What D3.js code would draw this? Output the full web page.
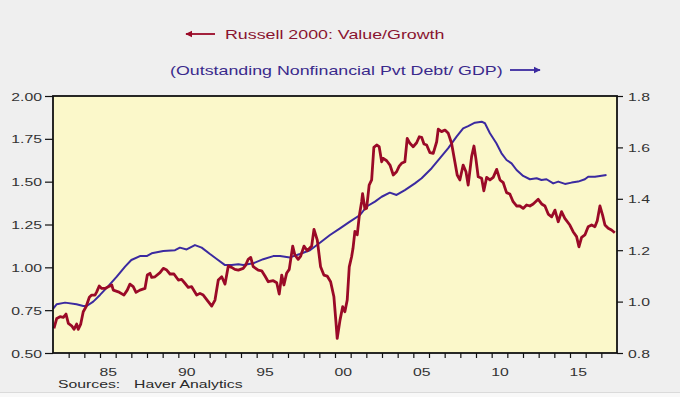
<!DOCTYPE html>
<html>
<head>
<meta charset="utf-8">
<script src="https://d3js.org/d3.v7.min.js"></script>
<style>
  body { margin: 0; background: #efefef; }
  svg { display: block; font-family: "Liberation Sans", Arial, sans-serif; }
</style>
</head>
<body>
<svg id="chart" width="680" height="397"></svg>
<script>
// Russell 2000 Value/Growth (left axis)
var rusYears = [1982.06,1982.24,1982.45,1982.66,1982.83,1982.98,1983.19,1983.34,1983.51,1983.61,1983.77,1983.93,
  1984.11,1984.32,1984.47,1984.68,1984.79,1984.95,1985.11,1985.32,1985.53,1985.75,1985.85,1986.17,1986.53,1986.74,
  1986.91,1987.12,1987.30,1987.55,1987.87,1988.02,1988.19,1988.30,1988.51,1988.83,1989.04,1989.26,1989.47,1989.72,
  1990.00,1990.21,1990.42,1990.63,1990.85,1991.17,1991.38,1991.59,1991.91,1992.13,1992.34,1992.55,1992.77,1992.98,
  1993.19,1993.40,1993.61,1993.83,1994.14,1994.30,1994.46,1994.62,1994.78,1995.10,1995.32,1995.53,1995.74,1996.06,
  1996.28,1996.44,1996.60,1996.74,1996.91,1997.08,1997.30,1997.44,1997.65,1997.81,1998.02,1998.23,1998.51,1998.66,
  1998.87,1999.08,1999.29,1999.50,1999.72,1999.93,2000.06,2000.14,2000.32,2000.49,2000.63,2000.78,2000.91,2001.06,
  2001.15,2001.27,2001.42,2001.55,2001.70,2001.76,2001.91,2002.02,2002.18,2002.34,2002.48,2002.66,2002.82,2002.98,
  2003.08,2003.30,2003.51,2003.72,2003.93,2004.10,2004.25,2004.46,2004.61,2004.78,2004.99,2005.21,2005.38,2005.53,
  2005.68,2005.85,2006.06,2006.27,2006.49,2006.59,2006.80,2007.02,2007.23,2007.44,2007.65,2007.80,2007.97,2008.18,
  2008.36,2008.50,2008.72,2008.87,2008.99,2009.14,2009.36,2009.50,2009.68,2009.89,2010.10,2010.32,2010.53,2010.74,
  2010.95,2011.16,2011.37,2011.59,2011.80,2012.01,2012.23,2012.44,2012.65,2012.97,2013.19,2013.40,2013.61,2013.83,
  2014.04,2014.25,2014.46,2014.67,2014.99,2015.20,2015.42,2015.57,2015.74,2015.95,2016.16,2016.38,2016.59,2016.74,
  2016.91,2017.08,2017.23,2017.44,2017.65,2017.86];
var rusValues = [0.644,0.702,0.712,0.708,0.727,0.673,0.659,0.638,0.669,0.638,0.669,0.741,
  0.770,0.825,0.838,0.838,0.857,0.891,0.877,0.877,0.887,0.897,0.867,0.857,0.838,0.867,
  0.902,0.887,0.854,0.867,0.877,0.955,0.965,0.941,0.945,0.969,0.994,0.984,0.961,0.961,
  0.926,0.930,0.907,0.883,0.887,0.838,0.848,0.838,0.800,0.774,0.809,0.926,0.945,0.902,
  1.008,1.000,0.988,0.984,0.994,1.013,1.047,1.058,1.004,0.984,0.980,0.949,0.916,0.922,
  0.910,0.844,0.955,0.897,0.965,0.988,1.124,1.072,1.047,1.066,1.124,1.097,1.124,1.222,
  1.159,1.003,0.955,0.949,0.916,0.828,0.682,0.585,0.692,0.770,0.741,0.809,1.003,1.062,
  1.111,1.210,1.190,1.300,1.383,1.430,1.340,1.345,1.480,1.510,1.700,1.714,1.704,1.616,
  1.636,1.622,1.597,1.539,1.558,1.591,1.607,1.616,1.753,1.724,1.704,1.727,1.762,1.759,
  1.720,1.714,1.669,1.665,1.733,1.806,1.792,1.801,1.782,1.724,1.616,1.539,1.510,1.597,
  1.558,1.480,1.646,1.708,1.636,1.529,1.520,1.447,1.525,1.510,1.525,1.572,1.510,1.494,
  1.436,1.428,1.383,1.358,1.358,1.344,1.364,1.358,1.370,1.397,1.370,1.358,1.311,1.295,
  1.334,1.266,1.325,1.286,1.247,1.208,1.179,1.120,1.175,1.189,1.237,1.247,1.237,1.272,
  1.358,1.305,1.247,1.228,1.218,1.202];

// Outstanding nonfinancial private debt / GDP (right axis)
var debtYears = [1982.00,1982.24,1982.77,1983.50,1983.93,1984.15,1984.57,1985.00,1985.53,1986.07,1986.60,1987.00,
  1987.55,1987.98,1988.30,1989.04,1989.79,1990.10,1990.53,1991.06,1991.49,1992.02,1992.45,1992.98,1993.40,1993.83,
  1994.14,1994.78,1995.42,1996.06,1996.49,1997.12,1997.76,1998.40,1999.04,1999.68,2000.32,2000.95,2001.60,2002.02,
  2002.55,2002.98,2003.50,2003.93,2004.46,2005.10,2005.53,2006.17,2006.70,2007.23,2007.76,2008.18,2008.50,2008.93,
  2009.36,2009.57,2009.89,2010.30,2010.63,2010.95,2011.27,2011.59,2012.01,2012.44,2012.87,2013.18,2013.50,2013.93,
  2014.25,2014.68,2015.10,2015.52,2015.95,2016.16,2016.59,2016.91,2017.33];
var debtValues = [0.972,0.990,0.996,0.990,0.983,0.983,1.000,1.026,1.060,1.097,1.136,1.162,
  1.177,1.177,1.188,1.197,1.200,1.210,1.203,1.220,1.210,1.185,1.166,1.142,1.142,1.145,
  1.142,1.149,1.165,1.177,1.177,1.172,1.185,1.200,1.229,1.259,1.285,1.311,1.337,1.370,
  1.389,1.408,1.424,1.415,1.434,1.460,1.480,1.519,1.558,1.597,1.642,1.674,1.683,1.696,
  1.700,1.694,1.655,1.616,1.577,1.551,1.538,1.512,1.489,1.476,1.480,1.473,1.476,1.460,
  1.467,1.458,1.463,1.467,1.476,1.486,1.486,1.489,1.493];

var leftTicks = [0.50,0.75,1.00,1.25,1.50,1.75,2.00];
var rightTicks = [0.8,1.0,1.2,1.4,1.6,1.8];
var yearLabels = [1985,1990,1995,2000,2005,2010,2015];

var redColor = "#9a0a27", blueColor = "#3b2aa0";
var stretchX = 1.37; // the reference text is drawn wide

var svg = d3.select("#chart");
var plot = {left: 53, right: 617, top: 96, bottom: 353};

var x = d3.scaleLinear().domain([1982, 2018]).range([plot.left, plot.right]);
var yL = d3.scaleLinear().domain([0.5, 2.0]).range([plot.bottom, plot.top]);
var yR = d3.scaleLinear().domain([0.8, 1.8]).range([plot.bottom, plot.top]);

function stretch(sel) {
  sel.each(function() {
    var len = this.getComputedTextLength();
    d3.select(this).attr("textLength", len * stretchX).attr("lengthAdjust", "spacingAndGlyphs");
  });
}

// bottom strip
svg.append("rect").attr("x", 0).attr("y", 392).attr("width", 680).attr("height", 5).attr("fill", "#f8f8f8");
svg.append("line").attr("x1", 0).attr("x2", 680).attr("y1", 392.5).attr("y2", 392.5).attr("stroke", "#dadada");

// plot background
svg.append("rect")
  .attr("x", plot.left).attr("y", plot.top)
  .attr("width", plot.right - plot.left).attr("height", plot.bottom - plot.top)
  .attr("fill", "#fbf8ca");

// lines
var blueLine = d3.line().x(function(d, i) { return x(debtYears[i]); }).y(function(d) { return yR(d); });
var redLine = d3.line().x(function(d, i) { return x(rusYears[i]); }).y(function(d) { return yL(d); });

svg.append("path").datum(debtValues)
  .attr("d", blueLine).attr("fill", "none")
  .attr("stroke", blueColor).attr("stroke-width", 2).attr("stroke-linejoin", "round");
svg.append("path").datum(rusValues)
  .attr("d", redLine).attr("fill", "none")
  .attr("stroke", redColor).attr("stroke-width", 2.8).attr("stroke-linejoin", "round");

// frame
svg.append("rect")
  .attr("x", plot.left).attr("y", plot.top)
  .attr("width", plot.right - plot.left).attr("height", plot.bottom - plot.top)
  .attr("fill", "none").attr("stroke", "#111").attr("stroke-width", 1.8);

// axes
var axL = svg.append("g").attr("transform", "translate(" + plot.left + ",0)")
  .call(d3.axisLeft(yL).tickValues(leftTicks).tickFormat(d3.format(".2f")).tickSize(8).tickPadding(3));
var axR = svg.append("g").attr("transform", "translate(" + plot.right + ",0)")
  .call(d3.axisRight(yR).tickValues(rightTicks).tickFormat(d3.format(".1f")).tickSize(6).tickPadding(5));
var axB = svg.append("g").attr("transform", "translate(0," + plot.bottom + ")")
  .call(d3.axisBottom(x).tickValues(d3.range(1983, 2018)).tickFormat("").tickSize(5));
var axB2 = svg.append("g").attr("transform", "translate(0," + plot.bottom + ")")
  .call(d3.axisBottom(x).tickValues(yearLabels.map(function(y) { return y + 0.5; }))
    .tickFormat(function(d) { return String(Math.floor(d) % 100).padStart(2, "0"); })
    .tickSize(0).tickPadding(15));

[axL, axR, axB, axB2].forEach(function(a) {
  a.select(".domain").remove();
  a.selectAll("line").attr("stroke", "#111").attr("stroke-width", 1.2);
  a.selectAll("text").attr("fill", "#333").style("font-size", "11.5px")
    .style("font-family", "'Liberation Sans', Arial, sans-serif");
});
axL.selectAll("text").attr("dy", "0.36em");
axR.selectAll("text").attr("dy", "0.36em");
[axL, axR, axB2].forEach(function(a) { stretch(a.selectAll("text")); });

// sources
var src = svg.append("g").style("font-size", "11.5px").attr("fill", "#2a2a2a");
src.append("text").attr("x", 58).attr("y", 388).text("Sources:");
src.append("text").attr("x", 134).attr("y", 388).text("Haver Analytics");
stretch(src.selectAll("text"));

// legend
var defs = svg.append("defs");
[["headRed", redColor], ["headBlue", blueColor]].forEach(function(m) {
  defs.append("marker").attr("id", m[0]).attr("viewBox", "0 0 10 10")
    .attr("refX", 9).attr("refY", 5).attr("markerWidth", 4).attr("markerHeight", 4)
    .attr("orient", "auto-start-reverse")
    .append("path").attr("d", "M0,0L10,5L0,10z").attr("fill", m[1]);
});

svg.append("line").attr("x1", 186).attr("x2", 215).attr("y1", 34).attr("y2", 34)
  .attr("stroke", redColor).attr("stroke-width", 1.8).attr("marker-start", "url(#headRed)");
var t1 = svg.append("text").attr("x", 225).attr("y", 39)
  .attr("fill", "#8a1430").style("font-size", "13px").text("Russell 2000: Value/Growth");

var t2 = svg.append("text").attr("x", 170).attr("y", 75)
  .attr("fill", "#3a2a8c").style("font-size", "13px").text("(Outstanding Nonfinancial Pvt Debt/ GDP)");
svg.append("line").attr("x1", 510).attr("x2", 540).attr("y1", 70).attr("y2", 70)
  .attr("stroke", blueColor).attr("stroke-width", 1.8).attr("marker-end", "url(#headBlue)");
stretch(t1); stretch(t2);
</script>
</body>
</html>
